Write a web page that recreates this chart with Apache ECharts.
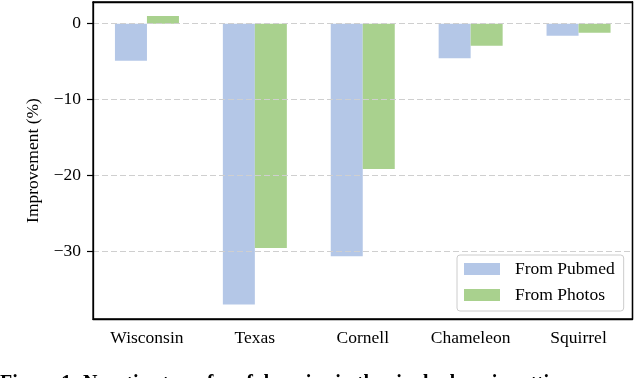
<!DOCTYPE html>
<html>
<head>
    <meta charset="utf-8">
    <title>ECharts</title>
    <script src="https://cdn.jsdelivr.net/npm/echarts@6/dist/echarts.min.js"></script>
    <style>
        html, body { margin: 0; padding: 0; background: #fff; }
    </style>
</head>
<body>
    <div id="main" style="width: 634px;height:378px;"></div>
    <script type="text/javascript">

var categories = ['Wisconsin', 'Texas', 'Cornell', 'Chameleon', 'Squirrel'];
var fromPubmed = [-4.9, -37.0, -30.65, -4.55, -1.6];
var fromPhotos = [1.0, -29.55, -19.15, -2.9, -1.2];
var yMin = -38.9, yMax = 2.85;

var serif = 'Liberation Serif';

function minusFmt(v) {
    if (v < 0) return '\u2212' + (-v);
    return '' + v;
}

var myChart = echarts.init(document.getElementById('main'));
myChart.setOption({
    animation: false,
    grid: {
        left: 93, right: 1.5, top: 2, bottom: 59,
        show: true, borderColor: '#000', borderWidth: 1.3
    },
    legend: {
        orient: 'vertical',
        left: 457, top: 255,
        padding: [5, 9, 7, 7],
        itemWidth: 36, itemHeight: 12, itemGap: 8,
        icon: 'rect',
        backgroundColor: 'rgba(255,255,255,0.8)',
        borderColor: '#cccccc', borderWidth: 1, borderRadius: 3,
        textStyle: { fontFamily: serif, fontSize: 17.5, color: '#000', padding: [0, 0, 0, 10] },
        data: ['From Pubmed', 'From Photos']
    },
    xAxis: [{
        type: 'category',
        data: categories,
        z: 5,
        axisLine: { onZero: false, lineStyle: { color: '#000', width: 1.3 } },
        axisTick: { alignWithLabel: true, length: 6, lineStyle: { color: '#000', width: 1.2 } },
        axisLabel: { fontFamily: serif, fontSize: 17.5, color: '#000', margin: 10 },
        splitLine: { show: false }
    }, {
        type: 'category',
        data: categories,
        position: 'top',
        z: 5,
        axisLine: { onZero: false, lineStyle: { color: '#000', width: 1.3 } },
        axisTick: { show: false },
        axisLabel: { show: false }
    }],
    yAxis: [{
        type: 'value',
        min: yMin, max: yMax,
        z: 3,
        name: 'Improvement (%)',
        nameLocation: 'middle',
        nameGap: 46,
        nameTextStyle: { fontFamily: serif, fontSize: 17.5, color: '#000' },
        axisLine: { show: true, lineStyle: { color: '#000', width: 1.3 } },
        axisTick: { show: true, length: 6, lineStyle: { color: '#000', width: 1.2 } },
        axisLabel: {
            fontFamily: serif, fontSize: 17.5, color: '#000', margin: 12,
            showMinLabel: false, showMaxLabel: false,
            formatter: minusFmt
        },
        splitLine: { show: true, lineStyle: { color: '#cfcfcf', type: [6, 3], width: 1.2 } }
    }, {
        type: 'value',
        min: yMin, max: yMax,
        position: 'right',
        z: 5,
        axisLine: { show: true, lineStyle: { color: '#000', width: 1.3 } },
        axisTick: { show: false },
        axisLabel: { show: false },
        splitLine: { show: false }
    }],
    series: [{
        name: 'From Pubmed',
        type: 'bar',
        data: fromPubmed,
        barWidth: 32,
        barGap: '0%',
        itemStyle: { color: '#b4c7e7' }
    }, {
        name: 'From Photos',
        type: 'bar',
        data: fromPhotos,
        barWidth: 32,
        barGap: '0%',
        itemStyle: { color: '#a9d18e' }
    }],
    graphic: [{
        type: 'text',
        left: 0, top: 374,
        style: {
            text: 'Figure 1: Negative transfer of domains in the single-domain setting.',
            fontFamily: serif, fontSize: 20, fontWeight: 'bold', fill: '#000'
        }
    }]
});
</script>
</body>
</html>
